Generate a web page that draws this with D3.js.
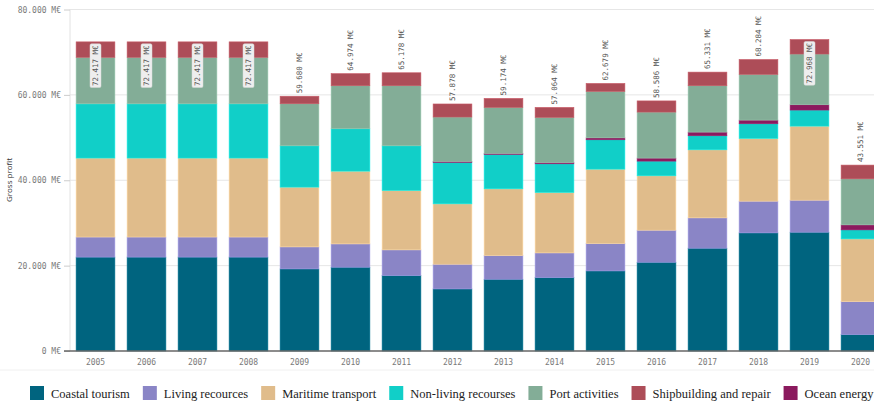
<html>
<head>
  <meta charset="utf-8">
  <title>Gross profit by sector</title>
  <script src="https://d3js.org/d3.v7.min.js"></script>
</head>
<style>
  body { margin: 0; background: #fff; }
  .grid line { stroke: #e6e6e6; }
  .axis text { font: 8px 'DejaVu Sans Mono'; fill: #7a7a7a; }
</style>
<body>
  <div class="chart"></div>
  <script>
    var years = ["2005","2006","2007","2008","2009","2010","2011","2012","2013","2014","2015","2016","2017","2018","2019","2020"];
    var coastal   = [22000,22000,22000,22000,19230,19630,17660,14540,16810,17190,18760,20790,24080,27670,27830,3830];
    var living    = [4700,4700,4700,4700,5160,5460,6030,5790,5540,5790,6410,7510,7110,7430,7500,7740];
    var maritime  = [18500,18500,18500,18500,14000,17040,13910,14140,15640,14150,17430,12740,15940,14690,17350,14690];
    var nonliving = [12700,12700,12700,12700,9680,9930,10470,9690,8050,6720,6880,3440,3290,3440,3760,2110];
    var ocean     = [0,0,0,0,0,0,0,250,250,300,450,710,860,860,1250,1180];
    var port      = [10900,10900,10900,10900,9850,10080,14070,10400,10770,10570,10880,10780,10860,10710,11880,10780];
    var ship      = [3617,3617,3617,3617,1760,2834,3038,3058,2114,2344,1869,2616,3191,3484,3398,3221];
    var totals    = [72417,72417,72417,72417,59680,64974,65178,57878,59174,57064,62679,58586,65331,68284,72968,43551];
    var yTicks    = [0,20000,40000,60000,80000];

    var keys = ["Coastal tourism","Living recources","Maritime transport","Non-living recourses","Ocean energy","Port activities","Shipbuilding and repair"];
    var legendOrder = ["Coastal tourism","Living recources","Maritime transport","Non-living recourses","Port activities","Shipbuilding and repair","Ocean energy"];
    var colors = ["#00647f","#8a85c6","#e0bc8b","#11cfc8","#8b1a5e","#83ad97","#ad4d58"];
    var series = [coastal, living, maritime, nonliving, ocean, port, ship];

    var data = years.map(function(y, i) {
      var d = {year: y, total: totals[i]};
      keys.forEach(function(k, j) { d[k] = series[j][i]; });
      return d;
    });

    var W = 874, H = 405;
    var svg = d3.select(".chart").append("svg")
      .attr("width", W).attr("height", H);

    var x = d3.scaleBand().domain(years).range([70, 886]).paddingInner(0.24).paddingOuter(0.12);
    var y = d3.scaleLinear().domain([0, 80000]).range([351, 9.5]);
    var z = d3.scaleOrdinal().domain(keys).range(colors);

    var fmt = function(v) { return d3.format(",")(v).replace(/,/g, ".") + " M€"; };

    // grid
    svg.append("g").attr("class", "grid")
      .selectAll("line").data(yTicks.slice(1)).enter().append("line")
        .attr("x1", 70).attr("x2", W)
        .attr("y1", function(d) { return y(d); }).attr("y2", function(d) { return y(d); });

    svg.append("line").attr("x1", 70).attr("x2", 70).attr("y1", 9.5).attr("y2", 351)
      .attr("stroke", "#e2e2e2");

    // y axis
    var yAxis = svg.append("g").attr("class", "axis")
      .attr("transform", "translate(70,0)")
      .call(d3.axisLeft(y).tickValues(yTicks).tickSize(6).tickPadding(3).tickFormat(fmt));
    yAxis.select(".domain").remove();
    yAxis.selectAll(".tick line").attr("stroke", "#ccc");

    svg.append("text")
      .attr("transform", "translate(12,180) rotate(-90)")
      .style("text-anchor", "middle")
      .style("font", "8px 'Open Sans'")
      .style("fill", "#333")
      .text("Gross profit");

    // bars
    var stack = d3.stack().keys(keys);
    var layer = svg.selectAll(".layer")
      .data(stack(data))
      .enter().append("g")
        .attr("class", "layer")
        .attr("fill", function(d) { return z(d.key); })
        .attr("stroke", function(d) { return d3.color(z(d.key)).brighter(0.4); })
        .attr("stroke-width", 0.6);

    layer.selectAll("rect")
      .data(function(d) { return d; })
      .enter().append("rect")
        .attr("x", function(d) { return x(d.data.year); })
        .attr("width", x.bandwidth())
        .attr("y", function(d) { return y(d[1]); })
        .attr("height", function(d) { return Math.max(0, y(d[0]) - y(d[1])); });

    // x axis
    var xAxis = svg.append("g").attr("class", "axis")
      .attr("transform", "translate(0,351)")
      .call(d3.axisBottom(x).tickSize(0).tickPadding(8));
    xAxis.select(".domain").remove();
    svg.append("line").attr("x1", 64).attr("x2", W).attr("y1", 351).attr("y2", 351)
      .attr("stroke", "#666").attr("stroke-width", 1.5);

    // total labels
    var labels = svg.append("g").selectAll("g")
      .data(data).enter().append("g");

    labels.each(function(d) {
      var g = d3.select(this);
      var cx = x(d.year) + x.bandwidth() / 2;
      var top = y(d.total);
      var t = g.append("text")
        .style("font", "7.5px 'DejaVu Sans Mono'")
        .style("fill", "#555")
        .text(fmt(d.total));
      var len = t.node().getComputedTextLength();
      if (top - 3 - len < 10) {
        // no room above the bar: boxed label inside
        var y0 = top + 3;
        g.insert("rect", "text")
          .attr("x", cx - 5.5).attr("y", y0 - 1)
          .attr("width", 11).attr("height", len + 3)
          .attr("rx", 1.5)
          .attr("fill", "#eeeeee").attr("stroke", "#d8d8d8").attr("stroke-width", 0.5);
        t.style("text-anchor", "end")
          .attr("transform", "translate(" + (cx + 2.7) + "," + (y0 + 0.5) + ") rotate(-90)");
      } else {
        t.attr("transform", "translate(" + (cx + 2.7) + "," + (top - 3) + ") rotate(-90)");
      }
    });

    // legend
    svg.append("line").attr("x1", 0).attr("x2", W).attr("y1", 370).attr("y2", 370)
      .attr("stroke", "#f0f0f0");

    var lx = 30;
    legendOrder.forEach(function(k) {
      var item = svg.append("g").attr("transform", "translate(" + lx + ",386)");
      item.append("rect").attr("width", 14).attr("height", 14).attr("fill", z(k));
      var t = item.append("text")
        .attr("x", 21).attr("y", 11.5)
        .style("font", "12.5px 'Liberation Serif'")
        .style("fill", "#222")
        .text(k);
      lx += 21 + t.node().getComputedTextLength() + 13;
    });
  </script>
</body>
</html>
